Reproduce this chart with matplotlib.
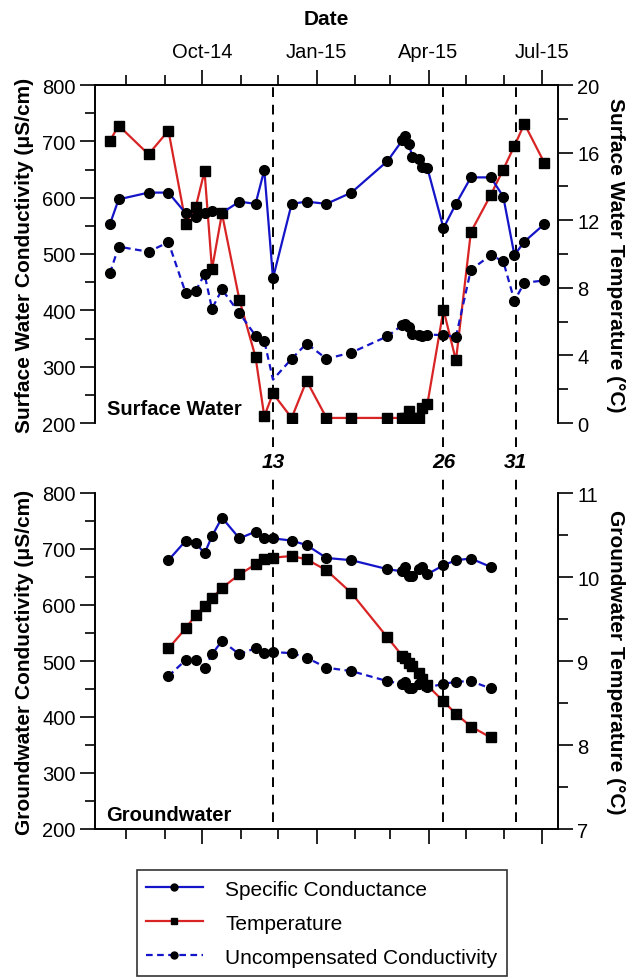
import matplotlib
matplotlib.use("Agg")
import matplotlib.pyplot as plt
import matplotlib.dates as mdates
import matplotlib.transforms as mtransforms
from matplotlib.ticker import MultipleLocator
from datetime import datetime

plt.rcParams['font.family'] = ['Liberation Sans', 'DejaVu Sans']

# Surface water data
sw_dates = ['2014-07-19', '2014-07-26', '2014-08-19', '2014-09-04', '2014-09-18', '2014-09-26',
            '2014-10-03', '2014-10-09', '2014-10-17', '2014-10-31', '2014-11-13', '2014-11-20',
            '2014-11-27', '2014-12-12', '2014-12-24', '2015-01-09', '2015-01-29', '2015-02-27',
            '2015-03-11', '2015-03-13', '2015-03-16', '2015-03-19', '2015-03-24', '2015-03-27',
            '2015-03-31', '2015-04-13', '2015-04-23', '2015-05-05', '2015-05-21', '2015-05-31',
            '2015-06-09', '2015-06-17', '2015-07-03']
sw_sc = [553, 597, 609, 609, 572, 565, 573, 576, 573, 593, 589, 649, 457, 589, 593, 589, 609,
         665, 702, 709, 696, 673, 668, 654, 653, 546, 589, 636, 636, 602, 498, 522, 553]
sw_uc = [466, 513, 504, 521, 430, 435, 464, 403, 437, 395, 355, 346, 277, 314, 341, 314, 325,
         354, 374, 375, 371, 358, 356, 355, 357, 356, 353, 472, 498, 487, 417, 449, 453]
sw_temp = [16.7, 17.6, 15.9, 17.3, 11.8, 12.8, 14.9, 9.1, 12.4, 7.3, 3.9, 0.4, 1.75, 0.3, 2.5,
           0.3, 0.3, 0.3, 0.3, 0.3, 0.7, 0.3, 0.3, 0.9, 1.1, 6.7, 3.7, 11.3, 13.5, 15.0, 16.4,
           17.7, 15.4]

# Groundwater data
gw_dates = ['2014-09-04', '2014-09-18', '2014-09-26', '2014-10-03', '2014-10-09', '2014-10-17',
            '2014-10-31', '2014-11-13', '2014-11-20', '2014-11-27', '2014-12-12', '2014-12-24',
            '2015-01-09', '2015-01-29', '2015-02-27', '2015-03-11', '2015-03-13', '2015-03-16',
            '2015-03-19', '2015-03-24', '2015-03-27', '2015-03-31', '2015-04-13', '2015-04-23',
            '2015-05-05', '2015-05-21']
gw_sc = [680, 715, 711, 692, 723, 756, 719, 731, 719, 719, 715, 707, 684, 680, 664, 660, 668,
         651, 651, 665, 668, 655, 671, 680, 683, 668]
gw_uc = [473, 502, 502, 487, 512, 536, 512, 523, 515, 516, 514, 506, 488, 482, 464, 459, 462,
         452, 451, 459, 462, 453, 459, 463, 464, 451]
gw_temp = [9.15, 9.39, 9.55, 9.65, 9.75, 9.87, 10.03, 10.15, 10.21, 10.23, 10.25, 10.21, 10.08,
           9.81, 9.28, 9.06, 9.03, 8.98, 8.94, 8.86, 8.79, 8.71, 8.52, 8.37, 8.22, 8.09]

# sampling events marked with dashed lines
event_dates = ['2014-11-27', '2015-04-13', '2015-06-10']
event_labels = ['13', '26', '31']

def to_dt(lst):
    return [datetime.strptime(d, '%Y-%m-%d') for d in lst]

sw_x = to_dt(sw_dates)
gw_x = to_dt(gw_dates)
ev_x = to_dt(event_dates)

BLUE = '#1414c8'
RED = '#d82424'
xlim = (datetime(2014, 7, 7), datetime(2015, 7, 14))

fig = plt.figure(figsize=(6.26, 9.79), dpi=100)
W, H = 626.0, 979.0
ax1 = fig.add_axes([95 / W, 1 - 424 / H, 463 / W, (424 - 86) / H])
ax2 = fig.add_axes([95 / W, 1 - 830 / H, 463 / W, (830 - 494) / H])
ax1r = ax1.twinx()
ax2r = ax2.twinx()

lw = 1.6
ms_c = 7
ms_s = 7

# the uncompensated dip at event 13 has no visible marker
uc_mark = [i for i in range(len(sw_uc)) if sw_dates[i] != '2014-11-27']

# top panel
ax1r.plot(sw_x, sw_temp, color=RED, lw=lw, marker='s', ms=ms_s, mfc='black', mec='black', zorder=2)
ax1.plot(sw_x, sw_sc, color=BLUE, lw=lw, marker='o', ms=ms_c, mfc='black', mec='black', zorder=3)
ax1.plot(sw_x, sw_uc, color=BLUE, lw=lw, ls=(0, (3, 2)), marker='o', ms=ms_c, mfc='black',
         mec='black', markevery=uc_mark, zorder=3)

# bottom panel
ax2r.plot(gw_x, gw_temp, color=RED, lw=lw, marker='s', ms=ms_s, mfc='black', mec='black', zorder=2)
ax2.plot(gw_x, gw_sc, color=BLUE, lw=lw, marker='o', ms=ms_c, mfc='black', mec='black', zorder=3)
ax2.plot(gw_x, gw_uc, color=BLUE, lw=lw, ls=(0, (3, 2)), marker='o', ms=ms_c, mfc='black',
         mec='black', zorder=3)

# bring primary axes above the twins so blue is on top
for a, ar in [(ax1, ax1r), (ax2, ax2r)]:
    a.set_zorder(ar.get_zorder() + 1)
    a.patch.set_visible(False)

fs = 15
tick_fs = 14.5

# event lines
trans = mtransforms.blended_transform_factory(ax2.transData, fig.transFigure)
for d, lab in zip(ev_x, event_labels):
    ax1.axvline(d, ymin=-0.07, ymax=1, color='black', lw=1.4, ls=(0, (5, 4)), clip_on=False, zorder=1)
    ax2.axvline(d, ymin=0.02, ymax=1.05, color='black', lw=1.4, ls=(0, (5, 4)), clip_on=False, zorder=1)
    ax2.text(d, 1 - 462 / H, lab, transform=trans, ha='center', va='center',
             fontsize=fs, fontweight='bold', fontstyle='italic')

for a in (ax1, ax2, ax1r, ax2r):
    a.set_xlim(*xlim)
    a.xaxis.set_major_locator(mdates.MonthLocator(bymonth=[1, 4, 7, 10]))
    a.xaxis.set_minor_locator(mdates.MonthLocator())
    a.xaxis.set_major_formatter(mdates.DateFormatter('%b-%y'))

# top panel axes styling
ax1.set_ylim(200, 800)
ax1.yaxis.set_major_locator(MultipleLocator(100))
ax1.yaxis.set_minor_locator(MultipleLocator(50))
ax1r.set_ylim(0, 20)
ax1r.yaxis.set_major_locator(MultipleLocator(4))
ax1r.yaxis.set_minor_locator(MultipleLocator(2))
for a in (ax1, ax1r):
    a.spines['bottom'].set_visible(False)
ax1.xaxis.tick_top()
ax1.xaxis.set_label_position('top')
ax1r.tick_params(axis='x', which='both', bottom=False, top=False, labelbottom=False, labeltop=False)
ax1.set_xlabel('Date', fontsize=fs, fontweight='bold', labelpad=13)
ax1.set_ylabel('Surface Water Conductivity (\u03bcS/cm)', fontsize=fs, fontweight='bold', labelpad=6)
ax1r.set_ylabel('Surface Water Temperature (\u00b0C)', fontsize=fs, fontweight='bold',
                rotation=270, labelpad=18)

# bottom panel axes styling
ax2.set_ylim(200, 800)
ax2.yaxis.set_major_locator(MultipleLocator(100))
ax2.yaxis.set_minor_locator(MultipleLocator(50))
ax2r.set_ylim(7, 11)
ax2r.yaxis.set_major_locator(MultipleLocator(1))
ax2r.yaxis.set_minor_locator(MultipleLocator(0.5))
for a in (ax2, ax2r):
    a.spines['top'].set_visible(False)
ax2.tick_params(axis='x', which='both', labelbottom=False)
ax2r.tick_params(axis='x', which='both', bottom=False, top=False, labelbottom=False)
ax2.set_ylabel('Groundwater Conductivity (\u03bcS/cm)', fontsize=fs, fontweight='bold', labelpad=6)
ax2r.set_ylabel('Groundwater Temperature (\u00b0C)', fontsize=fs, fontweight='bold',
                rotation=270, labelpad=18)

for a in (ax1, ax2, ax1r, ax2r):
    a.tick_params(which='major', direction='out', length=11, width=1.2, labelsize=tick_fs, pad=3)
    a.tick_params(which='minor', direction='out', length=7, width=1.2)
    for s in a.spines.values():
        s.set_linewidth(1.2)
ax1.tick_params(axis='x', which='major', pad=6)

ax1.text(0.025, 0.015, 'Surface Water', transform=ax1.transAxes, fontsize=14.5,
         fontweight='bold', ha='left', va='bottom')
ax2.text(0.025, 0.015, 'Groundwater', transform=ax2.transAxes, fontsize=14.5,
         fontweight='bold', ha='left', va='bottom')

# legend
h1, = ax1.plot([], [], color=BLUE, lw=lw, marker='o', ms=5, mfc='black', mec='black')
h2, = ax1.plot([], [], color=RED, lw=lw, marker='s', ms=5, mfc='black', mec='black')
h3, = ax1.plot([], [], color=BLUE, lw=lw, ls=(0, (3, 2)), marker='o', ms=5, mfc='black', mec='black')
leg = fig.legend([h1, h2, h3], ['Specific Conductance', 'Temperature', 'Uncompensated Conductivity'],
                 loc='lower center', bbox_to_anchor=(322 / W, 0.0), fontsize=fs,
                 frameon=True, fancybox=False, edgecolor='black', handlelength=2.7,
                 handletextpad=1.1, borderpad=0.45, labelspacing=0.72, borderaxespad=0.1)
leg.get_frame().set_linewidth(1.2)

fig.savefig('out.png', dpi=100)
